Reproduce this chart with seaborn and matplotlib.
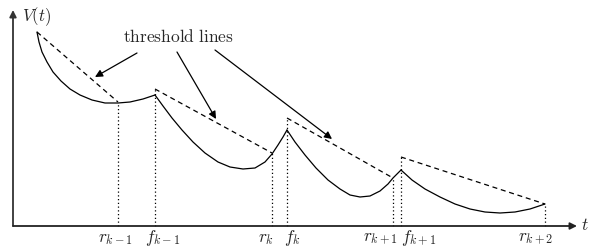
import numpy as np
import matplotlib
matplotlib.use("Agg")
import matplotlib.pyplot as plt
import seaborn as sns

# ====================================================
# DATA (t = time, V = value above the t axis)
# ====================================================

t1 = [24, 26, 29, 34, 40, 48, 57, 67, 79, 92, 105, 117, 130, 142]
v1 = [194, 184, 174, 164, 154, 145, 137, 131, 126, 123, 123, 124, 127, 131]

t2 = [142, 150, 159, 169, 180, 192, 205, 217, 230, 242, 252, 259, 265, 270, 274]
v2 = [131, 120, 108, 96, 84, 73, 64, 59, 57, 58, 64, 72, 81, 89, 96]

t3 = [274, 282, 292, 303, 315, 327, 337, 347, 357, 367, 375, 380, 384, 388]
v3 = [96, 84, 71, 58, 46, 37, 31, 29, 30, 35, 42, 48, 52, 56]

t4 = [388, 399, 412, 427, 442, 457, 472, 487, 502, 517, 532]
v4 = [56, 46, 37, 29, 22, 17, 14, 13, 14, 17, 22]

# threshold lines: (start t, end t), (start V, end V)
thr_t = [(24, 105), (142, 259), (274, 380), (388, 532)]
thr_v = [(194, 124), (137, 73), (108, 48), (69, 22)]

# event times and heights of the dotted markers
event_t = [105, 142, 259, 274, 380, 388, 532]
event_v = [123, 137, 73, 108, 48, 69, 22]
event_lab = [r"$r_{k-1}$", r"$f_{k-1}$", r"$r_k$", r"$f_k$",
             r"$r_{k+1}$", r"$f_{k+1}$", r"$r_{k+2}$"]
label_t = [103, 150, 253, 279, 368, 406, 523]

# arrows from the text to the threshold lines
arrow_from = [(124, 173), (164, 174), (202, 176)]
arrow_to = [(82, 149), (203, 107), (319, 87)]

# ====================================================
# STYLE
# ====================================================

sns.set_style("white")
plt.rcParams["mathtext.fontset"] = "cm"

fig = plt.figure(figsize=(6, 2.52), dpi=100)
ax = fig.add_axes([0, 0, 1, 1])
ax.set_xlim(-13, 587)
ax.set_ylim(-26, 226)
ax.axis("off")

# ====================================================
# CURVES
# ====================================================

for tt, vv in [(t1, v1), (t2, v2), (t3, v3), (t4, v4)]:
    sns.lineplot(x=tt, y=vv, color="black", lw=0.9, ax=ax, sort=False)

for tt, vv in zip(thr_t, thr_v):
    sns.lineplot(x=list(tt), y=list(vv), color="black", lw=0.9,
                 linestyle=(0, (4, 3)), ax=ax, sort=False)

ax.vlines(event_t, 0, event_v, colors="black", lw=0.9,
          linestyles=(0, (1, 2)))

# ====================================================
# AXES ARROWS
# ====================================================

ax.annotate("", xy=(0, 216), xytext=(0, 0),
            arrowprops=dict(arrowstyle="-|>", color="#333333", lw=1.3,
                            mutation_scale=10, shrinkA=0, shrinkB=0))
ax.annotate("", xy=(564, 0), xytext=(0, 0),
            arrowprops=dict(arrowstyle="-|>", color="#222222", lw=1.3,
                            mutation_scale=10, shrinkA=0, shrinkB=0))

ax.text(24, 209, r"$V(t)$", fontsize=12, ha="center", va="center")
ax.text(572, 1, r"$t$", fontsize=12.5, ha="center", va="center")

for x, lab in zip(label_t, event_lab):
    ax.text(x, -12, lab, fontsize=12.5, ha="center", va="center")

# ====================================================
# ANNOTATION
# ====================================================

ax.text(165, 189, r"$\mathrm{threshold\ lines}$", fontsize=12.5,
        ha="center", va="center")

for a, b in zip(arrow_from, arrow_to):
    ax.annotate("", xy=b, xytext=a,
                arrowprops=dict(arrowstyle="-|>", color="black", lw=0.9,
                                mutation_scale=11, shrinkA=0, shrinkB=0))

fig.savefig("out.png", dpi=100)
